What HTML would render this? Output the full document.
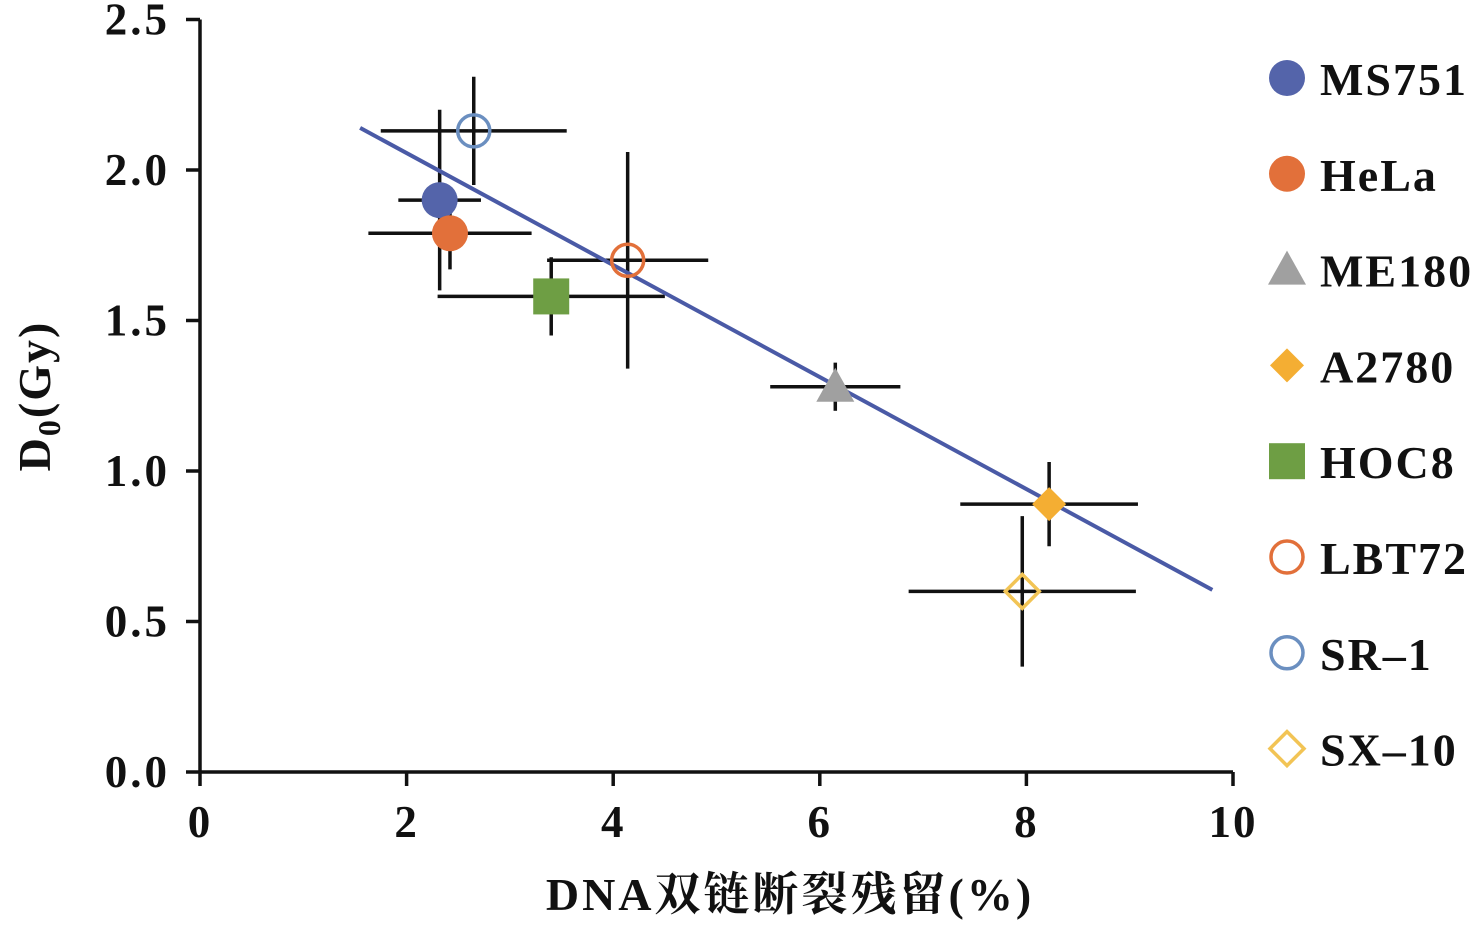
<!DOCTYPE html>
<html><head><meta charset="utf-8"><style>
html,body{margin:0;padding:0;background:#fff;}
svg text{font-family:"Liberation Serif","Noto Serif CJK SC",serif;font-weight:bold;fill:#111;}
</style></head><body>
<svg id="chart" width="1482" height="924" viewBox="0 0 1482 924" xmlns="http://www.w3.org/2000/svg">
<g id="axes"></g><g id="errs"></g><g id="fit"></g><g id="marks"></g><g id="legend"></g>
</svg>
<script>
const names=["MS751","HeLa","ME180","A2780","HOC8","LBT72","SR-1","SX-10"];
const xVals=[2.32,2.42,6.15,8.22,3.40,4.14,2.65,7.96];
const yVals=[1.90,1.79,1.28,0.89,1.58,1.70,2.13,0.60];
const xErr=[0.40,0.79,0.63,0.86,1.10,0.78,0.90,1.10];
const yErr=[0.30,0.12,0.08,0.14,0.13,0.36,0.18,0.25];
const fitX=[1.55,9.80];
const fitY=[2.14,0.605];
const xTicks=[0,2,4,6,8,10];
const yTicks=[0.0,0.5,1.0,1.5,2.0,2.5];
const styles=[
 {shape:"circle",fill:"#5464aa",stroke:"none"},
 {shape:"circle",fill:"#e2703a",stroke:"none"},
 {shape:"triangle",fill:"#a0a0a0",stroke:"none"},
 {shape:"diamond",fill:"#f4ae33",stroke:"none"},
 {shape:"square",fill:"#6e9e44",stroke:"none"},
 {shape:"circle",fill:"none",stroke:"#e2703a"},
 {shape:"circle",fill:"none",stroke:"#6b8fc0"},
 {shape:"diamond",fill:"none",stroke:"#f2c455"}];
const NS="http://www.w3.org/2000/svg";
const X=v=>200+v*103.3, Y=v=>772-v*301;
function mk(tag,attrs,parent){const e=document.createElementNS(NS,tag);for(const k in attrs)e.setAttribute(k,attrs[k]);document.getElementById(parent).appendChild(e);return e;}
let e=mk("line",{x1:X(0),y1:Y(0),x2:X(10),y2:Y(0),stroke:"#111","stroke-width":3.5},"axes");


e=mk("line",{x1:X(0),y1:Y(0),x2:X(0),y2:Y(2.5),stroke:"#111","stroke-width":3.5},"axes");


xTicks.forEach(t=>{
 let l=mk("line",{x1:X(t),y1:772,x2:X(t),y2:786,stroke:"#111","stroke-width":3.5},"axes");
 
 
 let tx=mk("text",{x:X(t),y:837,"text-anchor":"middle","font-size":45,"letter-spacing":2},"axes");tx.textContent=t;
 
 
});
yTicks.forEach(t=>{
 let l=mk("line",{x1:186,y1:Y(t),x2:200,y2:Y(t),stroke:"#111","stroke-width":3.5},"axes");
 
 
 let tx=mk("text",{x:170,y:Y(t)+15,"text-anchor":"end","font-size":45,"letter-spacing":3},"axes");tx.textContent=t.toFixed(1);
 
 
});
e=mk("text",{x:790,y:910,"text-anchor":"middle","font-size":46,"letter-spacing":3},"axes");e.textContent="DNA双链断裂残留(%)";


e=mk("text",{x:0,y:0,"text-anchor":"middle","font-size":46,"letter-spacing":2,transform:"translate(50,396) rotate(-90)"},"axes");
e.innerHTML='D<tspan font-size="32" dy="10">0</tspan><tspan dy="-10">(Gy)</tspan>';


names.forEach((n,i)=>{
 let h=mk("line",{x1:X(xVals[i]-xErr[i]),y1:Y(yVals[i]),x2:X(xVals[i]+xErr[i]),y2:Y(yVals[i]),stroke:"#111","stroke-width":3.5},"errs");
 
 
 let v=mk("line",{x1:X(xVals[i]),y1:Y(yVals[i]-yErr[i]),x2:X(xVals[i]),y2:Y(yVals[i]+yErr[i]),stroke:"#111","stroke-width":3.5},"errs");
 
 
});
e=mk("line",{x1:X(fitX[0]),y1:Y(fitY[0]),x2:X(fitX[1]),y2:Y(fitY[1]),stroke:"#4a5aa6","stroke-width":4},"fit");


function marker(s,cx,cy,parent){
 const sw=s.stroke==="none"?0:3.5;const a={fill:s.fill,stroke:s.stroke,"stroke-width":sw};
 if(s.shape==="circle")return mk("circle",Object.assign({cx,cy,r:s.fill==="none"?16:18},a),parent);
 if(s.shape==="square")return mk("rect",Object.assign({x:cx-18,y:cy-18,width:36,height:36},a),parent);
 if(s.shape==="triangle")return mk("polygon",Object.assign({points:`${cx},${cy-19} ${cx+19},${cy+15} ${cx-19},${cy+15}`},a),parent);
 return mk("polygon",Object.assign({points:`${cx},${cy-17} ${cx+17},${cy} ${cx},${cy+17} ${cx-17},${cy}`},a),parent);
}
names.forEach((n,i)=>{
 let m=marker(styles[i],X(xVals[i]),Y(yVals[i]),"marks");
 
 
 let ly=78+i*95.8;
 let lm=marker(styles[i],1287,ly,"legend");
 
 
 let t=mk("text",{x:1320,y:ly+17,"font-size":46,"letter-spacing":2},"legend");t.textContent=n.replace("-","–");
 
 
});
</script>
</body></html>
